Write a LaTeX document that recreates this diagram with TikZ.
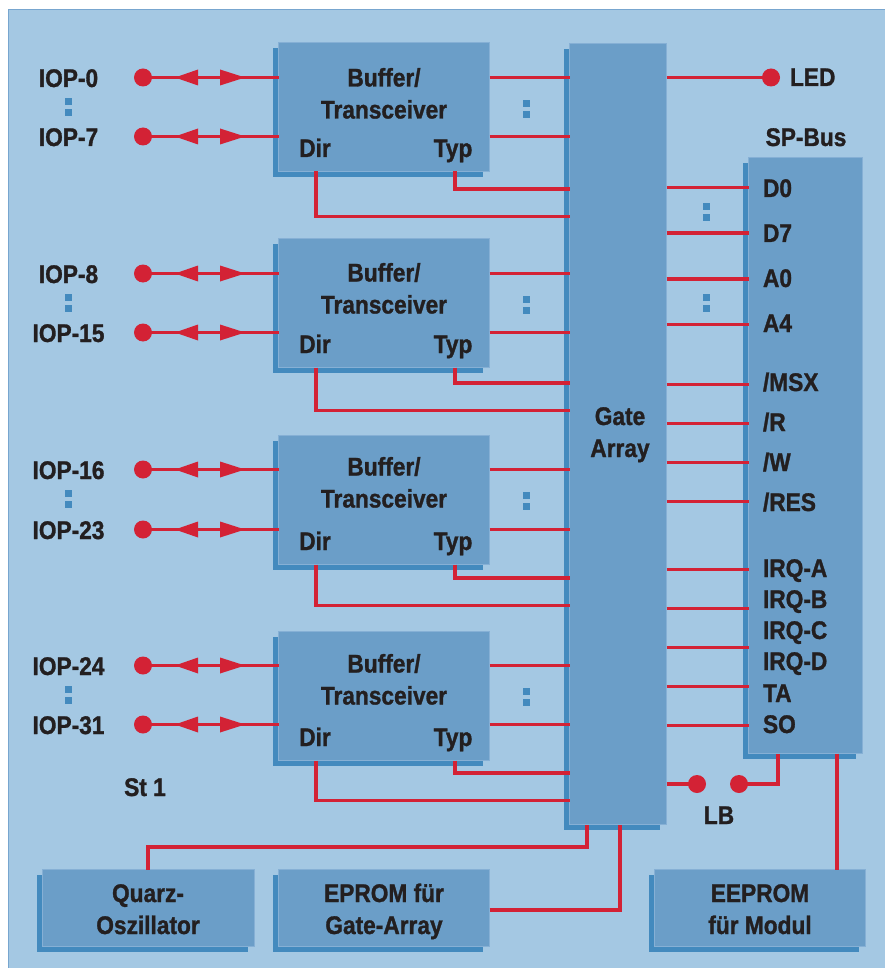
\documentclass[tikz,border=0pt]{standalone}
\usepackage{fontspec}
\setmainfont{Liberation Sans}[FakeStretch=0.89,BoldFeatures={FakeBold=1.2}]
\usetikzlibrary{decorations.markings,calc}
\definecolor{panel}{HTML}{A4C8E3}
\definecolor{panelb}{HTML}{78A6CF}
\definecolor{boxf}{HTML}{6B9EC8}
\definecolor{boxb}{HTML}{86B0D5}
\definecolor{shad}{HTML}{438ABE}
\definecolor{wire}{HTML}{D32235}
\definecolor{ink}{HTML}{231F20}
\tikzset{
  x=1pt,y=-1pt,
  lab/.style={font=\bfseries\fontsize{25.5}{30}\selectfont,text=ink,inner sep=0pt,outer sep=0pt,anchor=base},
  labw/.style={lab,anchor=base west},
  wireline/.style={draw=wire,line width=3.2pt,line join=miter},
  termdot/.style={circle,fill=wire,draw=none,minimum size=18pt,inner sep=0pt,outer sep=0pt},
  block/.style={rectangle,fill=boxf,draw=boxb,line width=1pt,inner sep=0pt,outer sep=0pt},
  biarrow/.style={postaction={decorate,decoration={markings,
     mark=at position 32pt with {\fill[wire] (0pt,0pt)--(23pt,8pt)--(23pt,-8pt)--cycle;},
     mark=at position 77pt with {\fill[wire] (0pt,8pt)--(25pt,0pt)--(0pt,-8pt)--cycle;}}}},
}
\newcommand{\shadowbox}[4]{\fill[shad] (#1-5,#2+6) rectangle (#3-7,#4+5);}
\newcommand{\blocknode}[5]{% name x1 y1 x2 y2
  \shadowbox{#2}{#3}{#4}{#5}
  \pgfmathsetmacro{\bw}{#4-#2-1}\pgfmathsetmacro{\bh}{#5-#3-1}
  \node[block,minimum width=\bw pt,minimum height=\bh pt] (#1) at ({(#2+#4)/2},{(#3+#5)/2}) {};}
\newcommand{\vdotsq}[2]{\fill[shad] (#1,#2) rectangle ++(7,7); \fill[shad] (#1,#2+11) rectangle ++(7,7);}
\begin{document}
\begin{tikzpicture}
\useasboundingbox (0,0) rectangle (885,968);
\fill[panel] (8,9) rectangle (885,968);
\draw[panelb,line width=1.5pt] (8.5,968) -- (8.5,9.5) -- (885,9.5);
% large blocks
\blocknode{g}{569}{43}{667}{825}
\blocknode{sp}{748}{157}{863}{754}
\blocknode{quarz}{42}{869}{255}{947}
\blocknode{eprom}{278}{869}{490}{947}
\blocknode{eeprom}{654}{869}{866}{947}
% buffer groups
\foreach \i/\t/\ya/\yb/\lya/\lyb/\bo/\la/\lb/\dy in {
  1/42/77/136/87/146/36/IOP-0/IOP-7/216,
  2/238/273/332/283/342/35/IOP-8/IOP-15/410,
  3/435/469/529/479/539/32/IOP-16/IOP-23/605,
  4/631/665/724/675/734/33/IOP-24/IOP-31/800}{
  \blocknode{b\i}{278}{\t}{490}{\t+130}
  \node[termdot] (pa\i) at (143,\ya+.5) {};
  \node[termdot] (pb\i) at (143,\yb+.5) {};
  \draw[wireline,biarrow] (pa\i.center) -- (pa\i -| b\i.west);
  \draw[wireline,biarrow] (pb\i.center) -- (pb\i -| b\i.west);
  \draw[wireline] (pa\i -| b\i.east) -- (pa\i -| g.west);
  \draw[wireline] (pb\i -| b\i.east) -- (pb\i -| g.west);
  \coordinate (typ\i) at (455,\dy-27);
  \coordinate (dir\i) at (316,\dy+.5);
  \draw[wireline] (typ\i |- b\i.south) -- (typ\i) -- (typ\i -| g.west);
  \draw[wireline] (dir\i |- b\i.south) -- (dir\i) -- (dir\i -| g.west);
  \node[lab] (la\i) at (68.5,\lya) {\la};
  \node[lab] (lb\i) at (68.5,\lyb) {\lb};
  \vdotsq{65}{\ya+21}
  \vdotsq{523}{\ya+23}
  \node[lab] (buf\i) at (384,\t+\bo+8.5) {Buffer/};
  \node[lab] (tra\i) at (384,\t+\bo+40.5) {Transceiver};
  \node[lab] (d\i) at (315,\t+115) {Dir};
  \node[lab] (ty\i) at (453,\t+115) {Typ};
}
% SP bus signals
\foreach \n/\txt/\yt in {s1/D0/197,s2/D7/242,s3/A0/287,s4/A4/332,s5/{/MSX}/391,s6/{/R}/431,s7/{/W}/471,s8/{/RES}/511,s9/IRQ-A/577,s10/IRQ-B/608,s11/IRQ-C/639,s12/IRQ-D/670,s13/TA/702,s14/SO/733}{
  \node[labw] (\n) at (763,\yt) {\txt};
}
\foreach \yw/\k in {187.3/a,233/b,279/c,324.3/d,384.3/e,423.3/f,462.3/h,501.3/i,569.3/j,608.3/k,647.3/l,686.3/m,725.3/n}{
  \coordinate (w\k) at (700,\yw);
  \draw[wireline] (w\k -| g.east) -- (w\k -| sp.west);
}
\vdotsq{703}{203}
\vdotsq{703}{294}
% LED and LB
\node[termdot] (led) at (771,77.5) {};
\draw[wireline] (led -| g.east) -- (led.center);
\node[labw] (ledl) at (790,86) {LED};
\node[lab] (spbus) at (806,146) {SP-Bus};
\node[termdot] (lb1) at (697,784) {};
\node[termdot] (lb2) at (739,784) {};
\coordinate (lbc) at (778,784);
\draw[wireline] (lb1 -| g.east) -- (lb1.center);
\draw[wireline] (lb2.center) -- (lbc) -- (lbc |- sp.south);
\node[lab] (lbl) at (719,824) {LB};
\node[lab] (st) at (145,796) {St 1};
% bottom connectors
\coordinate (qc) at (148,847);
\coordinate (qg) at (587,847);
\draw[wireline] (qc |- quarz.north) -- (qc) -- (qg) -- (qg |- g.south);
\coordinate (ec) at (620,910);
\draw[wireline] (ec -| eprom.east) -- (ec) -- (ec |- g.south);
\coordinate (eec) at (837,800);
\draw[wireline] (eec |- sp.south) -- (eec |- eeprom.north);
% block texts
\node[lab] at (620,425) {Gate};
\node[lab] at (620,457) {Array};
\node[lab] at (148,902) {Quarz-};
\node[lab] at (148,934) {Oszillator};
\node[lab] at (384,902) {EPROM für};
\node[lab] at (384,934) {Gate-Array};
\node[lab] at (760,902) {EEPROM};
\node[lab] at (760,934) {für Modul};
\end{tikzpicture}
\end{document}
